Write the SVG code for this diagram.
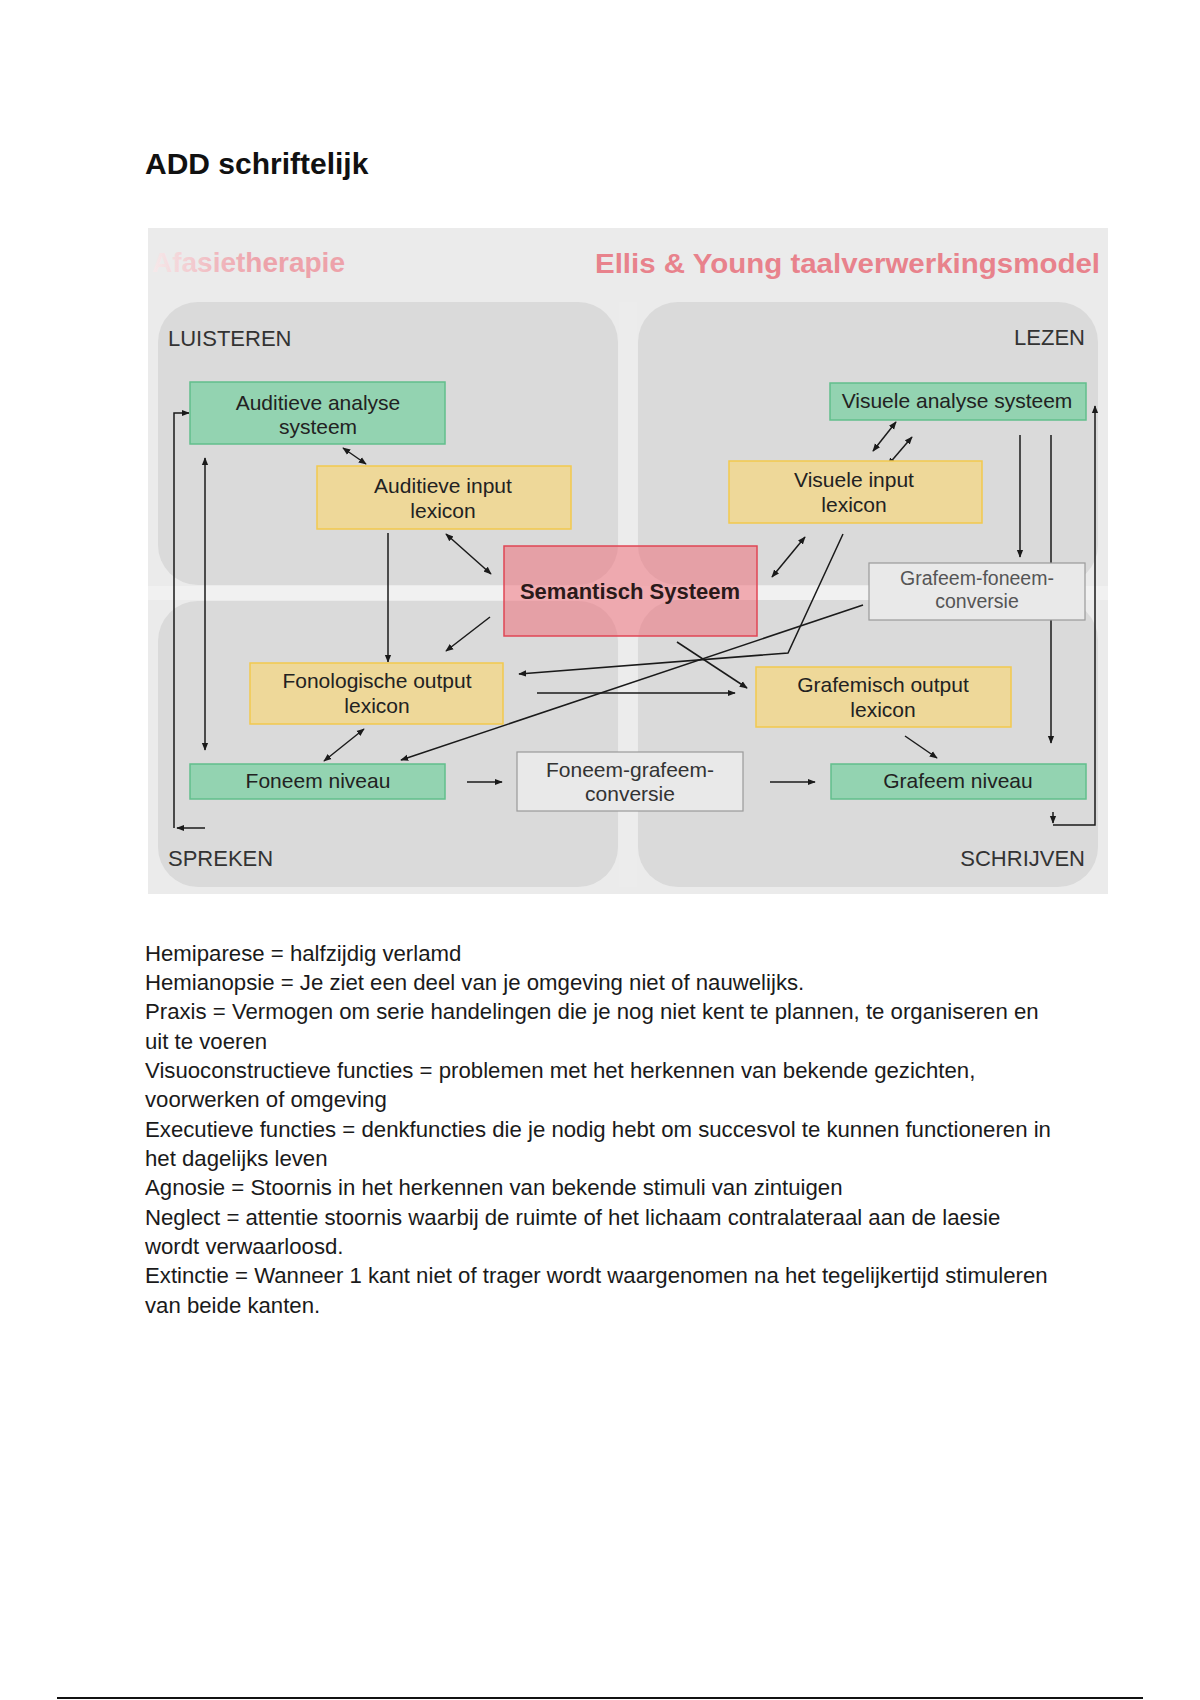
<svg xmlns="http://www.w3.org/2000/svg" width="1200" height="1700" viewBox="0 0 1200 1700">
<defs>
<marker id="ah" viewBox="0 0 10 10" refX="9" refY="5" markerWidth="8" markerHeight="8" markerUnits="userSpaceOnUse" orient="auto-start-reverse">
<path d="M0,1 L10,5 L0,9 z" fill="#1a1a1a"/>
</marker>
<linearGradient id="fade" x1="152" y1="0" x2="260" y2="0" gradientUnits="userSpaceOnUse">
<stop offset="0" stop-color="#f6eaeb"/>
<stop offset="0.6" stop-color="#f0b8be"/>
<stop offset="1" stop-color="#eda2aa"/>
</linearGradient>
<style>
.t{font-family:"Liberation Sans",Arial,sans-serif;}
.lbl{font-family:"Liberation Sans",Arial,sans-serif;font-size:21px;fill:#222;text-anchor:middle;}
.lblg{font-family:"Liberation Sans",Arial,sans-serif;font-size:19.5px;fill:#555;text-anchor:middle;}
.quad{font-family:"Liberation Sans",Arial,sans-serif;font-size:22px;fill:#333;}
.green{fill:#93d3b1;stroke:#62bf8c;stroke-width:1.5;}
.yellow{fill:#eed899;stroke:#f2c94e;stroke-width:1.5;}
.conv{fill:#e9e9e9;stroke:#9a9a9a;stroke-width:1.2;}
.c{fill:none;stroke:#1a1a1a;stroke-width:1.5;}
.body{font-family:"Liberation Sans",Arial,sans-serif;font-size:22.2px;fill:#1a1a1a;}
</style>
</defs>
<rect width="1200" height="1700" fill="#ffffff"/>
<text class="t" x="145" y="174" font-size="30" font-weight="bold" fill="#111">ADD schriftelijk</text>

<g id="panel">
<rect x="148" y="228" width="960" height="666" fill="#ebebeb"/>
<rect x="158" y="302" width="460" height="283" rx="40" fill="#dadada"/>
<rect x="638" y="302" width="460" height="283" rx="40" fill="#dadada"/>
<rect x="158" y="601" width="460" height="286" rx="40" fill="#dadada"/>
<rect x="638" y="600" width="460" height="287" rx="40" fill="#dadada"/>
<rect x="148" y="586" width="960" height="14" fill="#f1f1f1"/>
<rect x="619" y="302" width="18" height="585" fill="#ececec"/>
<text class="t" x="152" y="272" font-size="28" font-weight="bold" fill="url(#fade)">Afasietherapie</text>
<text class="t" x="1100" y="273" font-size="27" font-weight="bold" fill="#e8828c" text-anchor="end" textLength="505" lengthAdjust="spacingAndGlyphs">Ellis &amp; Young taalverwerkingsmodel</text>
<text class="quad" x="168" y="346">LUISTEREN</text>
<text class="quad" x="1085" y="345" text-anchor="end">LEZEN</text>
<text class="quad" x="168" y="866">SPREKEN</text>
<text class="quad" x="1085" y="866" text-anchor="end">SCHRIJVEN</text>
</g>

<g id="connectors">
<line class="c" x1="205" y1="828" x2="177" y2="828" marker-end="url(#ah)"/>
<path class="c" d="M174,828 L174,413 L189,413" marker-end="url(#ah)"/>
<line class="c" x1="205" y1="458" x2="205" y2="750" marker-start="url(#ah)" marker-end="url(#ah)"/>
<line class="c" x1="343" y1="448" x2="366" y2="464" marker-start="url(#ah)" marker-end="url(#ah)"/>
<line class="c" x1="388" y1="533" x2="388" y2="662" marker-end="url(#ah)"/>
<line class="c" x1="446" y1="534" x2="491" y2="574" marker-start="url(#ah)" marker-end="url(#ah)"/>
<line class="c" x1="490" y1="617" x2="446" y2="651" marker-end="url(#ah)"/>
<line class="c" x1="364" y1="729" x2="324" y2="761" marker-start="url(#ah)" marker-end="url(#ah)"/>
<line class="c" x1="863" y1="605" x2="401" y2="760" marker-end="url(#ah)"/>
<path class="c" d="M843,534 L788,653 L519,674" marker-end="url(#ah)"/>
<line class="c" x1="537" y1="693" x2="735" y2="693" marker-end="url(#ah)"/>
<line class="c" x1="677" y1="642" x2="747" y2="688" marker-end="url(#ah)"/>
<line class="c" x1="896" y1="422" x2="873" y2="451" marker-start="url(#ah)" marker-end="url(#ah)"/>
<line class="c" x1="912" y1="437" x2="888" y2="465" marker-start="url(#ah)" marker-end="url(#ah)"/>
<line class="c" x1="805" y1="537" x2="772" y2="577" marker-start="url(#ah)" marker-end="url(#ah)"/>
<line class="c" x1="1020" y1="435" x2="1020" y2="557" marker-end="url(#ah)"/>
<line class="c" x1="1051" y1="435" x2="1051" y2="743" marker-end="url(#ah)"/>
<line class="c" x1="905" y1="736" x2="937" y2="758" marker-end="url(#ah)"/>
<line class="c" x1="467" y1="782" x2="502" y2="782" marker-end="url(#ah)"/>
<line class="c" x1="770" y1="782" x2="815" y2="782" marker-end="url(#ah)"/>
<line class="c" x1="1053" y1="812" x2="1053" y2="823" marker-end="url(#ah)"/>
<path class="c" d="M1053,825 L1095,825 L1095,406" marker-end="url(#ah)"/>
</g>

<g id="auditieve-analyse">
<rect class="green" x="190" y="382" width="255" height="62"/>
<text class="lbl" x="318" y="410">Auditieve analyse</text>
<text class="lbl" x="318" y="434">systeem</text>
</g>
<g id="auditieve-input">
<rect class="yellow" x="317" y="466" width="254" height="63"/>
<text class="lbl" x="443" y="493">Auditieve input</text>
<text class="lbl" x="443" y="518">lexicon</text>
</g>
<g id="visuele-analyse">
<rect class="green" x="830" y="383" width="256" height="37"/>
<text class="lbl" x="957" y="408">Visuele analyse systeem</text>
</g>
<g id="visuele-input">
<rect class="yellow" x="729" y="461" width="253" height="62"/>
<text class="lbl" x="854" y="487">Visuele input</text>
<text class="lbl" x="854" y="512">lexicon</text>
</g>
<g id="semantisch">
<rect x="504" y="546" width="253" height="90" fill="#f0606c" fill-opacity="0.48" stroke="#e04654" stroke-width="1.5"/>
<text class="t" x="630" y="599" font-size="22" font-weight="bold" fill="#2a1a1a" text-anchor="middle">Semantisch Systeem</text>
</g>
<g id="grafeem-foneem">
<rect class="conv" x="869" y="563" width="216" height="57"/>
<text class="lblg" x="977" y="585">Grafeem-foneem-</text>
<text class="lblg" x="977" y="608">conversie</text>
</g>
<g id="fonologische-output">
<rect class="yellow" x="250" y="663" width="253" height="61"/>
<text class="lbl" x="377" y="688">Fonologische output</text>
<text class="lbl" x="377" y="713">lexicon</text>
</g>
<g id="grafemisch-output">
<rect class="yellow" x="756" y="667" width="255" height="60"/>
<text class="lbl" x="883" y="692">Grafemisch output</text>
<text class="lbl" x="883" y="717">lexicon</text>
</g>
<g id="foneem-niveau">
<rect class="green" x="190" y="764" width="255" height="35"/>
<text class="lbl" x="318" y="788">Foneem niveau</text>
</g>
<g id="foneem-grafeem">
<rect class="conv" x="517" y="752" width="226" height="59"/>
<text class="lbl" x="630" y="777" style="fill:#333">Foneem-grafeem-</text>
<text class="lbl" x="630" y="801" style="fill:#333">conversie</text>
</g>
<g id="grafeem-niveau">
<rect class="green" x="831" y="764" width="255" height="35"/>
<text class="lbl" x="958" y="788">Grafeem niveau</text>
</g>

<g id="notes">
<text class="body" x="145" y="961">Hemiparese = halfzijdig verlamd</text>
<text class="body" x="145" y="990">Hemianopsie = Je ziet een deel van je omgeving niet of nauwelijks.</text>
<text class="body" x="145" y="1019">Praxis = Vermogen om serie handelingen die je nog niet kent te plannen, te organiseren en</text>
<text class="body" x="145" y="1049">uit te voeren</text>
<text class="body" x="145" y="1078">Visuoconstructieve functies = problemen met het herkennen van bekende gezichten,</text>
<text class="body" x="145" y="1107">voorwerken of omgeving</text>
<text class="body" x="145" y="1137">Executieve functies = denkfuncties die je nodig hebt om succesvol te kunnen functioneren in</text>
<text class="body" x="145" y="1166">het dagelijks leven</text>
<text class="body" x="145" y="1195">Agnosie = Stoornis in het herkennen van bekende stimuli van zintuigen</text>
<text class="body" x="145" y="1225">Neglect = attentie stoornis waarbij de ruimte of het lichaam contralateraal aan de laesie</text>
<text class="body" x="145" y="1254">wordt verwaarloosd.</text>
<text class="body" x="145" y="1283">Extinctie = Wanneer 1 kant niet of trager wordt waargenomen na het tegelijkertijd stimuleren</text>
<text class="body" x="145" y="1313">van beide kanten.</text>
</g>
<line x1="57" y1="1698" x2="1143" y2="1698" stroke="#111" stroke-width="2"/>
</svg>
